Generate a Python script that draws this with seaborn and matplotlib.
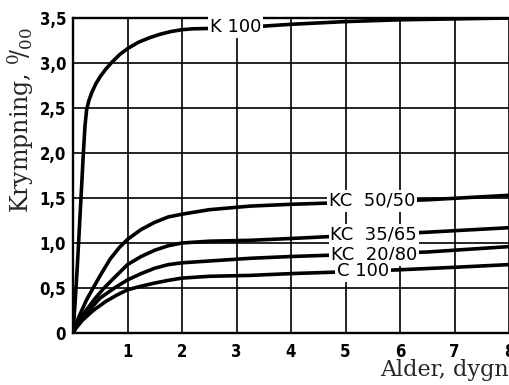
import matplotlib
matplotlib.use("Agg")
import matplotlib.pyplot as plt
import seaborn as sns
import pandas as pd

# Shrinkage curves (per mille) against age in days
k100_x = [0, 0.04, 0.08, 0.12, 0.16, 0.19, 0.22, 0.25, 0.29, 0.35, 0.42, 0.5, 0.6, 0.7,
          0.85, 1.0, 1.2, 1.4, 1.6, 1.8, 2.0, 2.2, 2.6, 3.0, 4.0, 5.0, 6.0, 7.0, 8.0]
k100_y = [0, 0.35, 0.75, 1.2, 1.65, 2.0, 2.3, 2.48, 2.58, 2.68, 2.77, 2.85, 2.93, 3.0,
          3.09, 3.16, 3.23, 3.28, 3.32, 3.35, 3.37, 3.38, 3.385, 3.39, 3.43, 3.46, 3.48, 3.49, 3.5]

kc5050_x = [0, 0.05, 0.1, 0.16, 0.25, 0.37, 0.5, 0.68, 0.85, 1.0, 1.25, 1.5, 1.75, 2.0,
            2.5, 3.25, 4.0, 5.0, 6.5, 8.0]
kc5050_y = [0, 0.09, 0.17, 0.25, 0.37, 0.5, 0.64, 0.82, 0.95, 1.04, 1.15, 1.23, 1.29, 1.32,
            1.37, 1.41, 1.43, 1.45, 1.48, 1.53]

kc3565_x = [0, 0.05, 0.12, 0.24, 0.4, 0.57, 0.75, 1.0, 1.25, 1.5, 1.75, 2.0, 2.5, 3.25,
            4.0, 5.0, 6.5, 8.0]
kc3565_y = [0, 0.07, 0.15, 0.25, 0.38, 0.5, 0.61, 0.76, 0.85, 0.92, 0.97, 1.0, 1.02, 1.03,
            1.05, 1.08, 1.12, 1.17]

kc2080_x = [0, 0.05, 0.14, 0.29, 0.5, 0.76, 1.0, 1.25, 1.5, 1.75, 2.0, 2.5, 3.25,
            4.0, 5.0, 6.5, 8.0]
kc2080_y = [0, 0.06, 0.14, 0.25, 0.39, 0.5, 0.59, 0.66, 0.72, 0.76, 0.78, 0.8, 0.83,
            0.85, 0.87, 0.9, 0.96]

c100_x = [0, 0.05, 0.17, 0.37, 0.6, 0.8, 1.0, 1.25, 1.5, 1.75, 2.0, 2.5, 3.25,
          4.0, 5.0, 5.9, 7.0, 8.0]
c100_y = [0, 0.05, 0.14, 0.25, 0.35, 0.42, 0.48, 0.52, 0.555, 0.585, 0.61, 0.63, 0.64,
          0.66, 0.68, 0.7, 0.73, 0.76]

series_names = ["K 100", "KC  50/50", "KC  35/65", "KC  20/80", "C 100"]
series_x = [k100_x, kc5050_x, kc3565_x, kc2080_x, c100_x]
series_y = [k100_y, kc5050_y, kc3565_y, kc2080_y, c100_y]

# label anchor positions (data coordinates)
label_x = [2.99, 5.49, 5.52, 5.52, 5.32]
label_y = [3.40, 1.47, 1.09, 0.87, 0.69]

x_ticks = [1, 2, 3, 4, 5, 6, 7, 8]
y_ticks = [0, 0.5, 1.0, 1.5, 2.0, 2.5, 3.0, 3.5]
y_ticklabels = ["0", "0,5", "1,0", "1,5", "2,0", "2,5", "3,0", "3,5"]

rows = []
for name, xs, ys in zip(series_names, series_x, series_y):
    for order, (x, y) in enumerate(zip(xs, ys)):
        rows.append({"serie": name, "order": order, "alder": x, "krymp": y})
df = pd.DataFrame(rows)

sns.set_theme(style="white")
plt.rcParams["mathtext.fontset"] = "dejavuserif"

fig = plt.figure(figsize=(5.09, 3.85), dpi=100)
ax = fig.add_axes([73 / 509, 52 / 385, 436 / 509, 315 / 385])

sns.lineplot(data=df, x="alder", y="krymp", hue="serie", units="serie",
             estimator=None, sort=False, palette=["black"] * 5,
             linewidth=2.6, legend=False, ax=ax, zorder=3)

ax.set_xlim(0, 8)
ax.set_ylim(0, 3.5)
ax.set_xticks(x_ticks)
ax.set_xticklabels([str(t) for t in x_ticks])
ax.set_yticks(y_ticks)
ax.set_yticklabels(y_ticklabels)
ax.grid(True, color="black", linewidth=1.2)
ax.set_axisbelow(True)

for side in ["left", "bottom", "top"]:
    ax.spines[side].set_visible(True)
    ax.spines[side].set_color("black")
    ax.spines[side].set_linewidth(1.7)
ax.spines["right"].set_visible(False)

tick_font = dict(family="DejaVu Sans", weight="bold", stretch="condensed", size=12)
for lab in ax.get_xticklabels() + ax.get_yticklabels():
    lab.set_fontproperties(matplotlib.font_manager.FontProperties(**tick_font))
ax.tick_params(axis="both", length=0, colors="black")
ax.tick_params(axis="x", pad=7)
ax.tick_params(axis="y", pad=5)

for name, lx, ly in zip(series_names, label_x, label_y):
    ax.text(lx, ly, name, ha="center", va="center", fontsize=13,
            family="DejaVu Sans", color="black", zorder=5,
            bbox=dict(boxstyle="square,pad=0.1", facecolor="white", edgecolor="none"))

ax.set_xlabel("")
ax.set_ylabel("")
fig.text(21 / 509, 1 - 120 / 385, r"Krympning, $^{0}\!/_{00}$", rotation=90,
         ha="center", va="center", family="DejaVu Serif", fontsize=17)
fig.text(509 / 509, 1 - 370 / 385, "Alder, dygn", ha="right", va="center",
         family="DejaVu Serif", fontsize=16)

fig.savefig("out.png", dpi=100, facecolor="white")
